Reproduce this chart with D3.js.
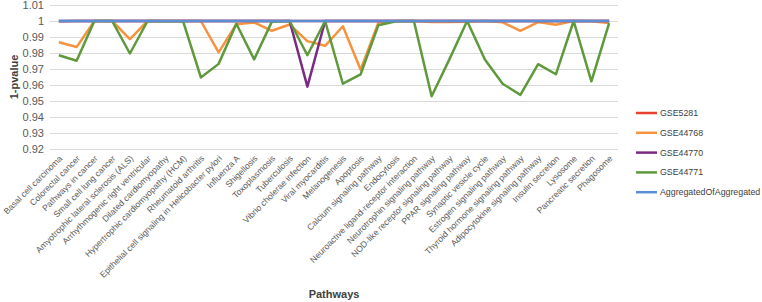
<!DOCTYPE html>
<html>
<head>
<meta charset="utf-8">
<script src="https://cdn.jsdelivr.net/npm/d3@7"></script>
<style>
  body { margin: 0; background: #fff; }
  svg { font-family: "Liberation Sans", Arial, sans-serif; }
</style>
</head>
<body>
<svg id="chart"></svg>
<script>
//Pathway names along the x axis
var pathways = ["Basal cell carcinoma", "Colorectal cancer", "Pathways in cancer", "Small cell lung cancer",
    "Amyotrophic lateral sclerosis (ALS)", "Arrhythmogenic right ventricular", "Dilated cardiomyopathy",
    "Hypertrophic cardiomyopathy (HCM)", "Rheumatoid arthritis", "Epithelial cell signaling in Helicobacter pylori",
    "Influenza A", "Shigellosis", "Toxoplasmosis", "Tuberculosis", "Vibrio cholerae infection", "Viral myocarditis",
    "Melanogenesis", "Apoptosis", "Calcium signaling pathway", "Endocytosis", "Neuroactive ligand-receptor interaction",
    "Neurotrophin signaling pathway", "NOD-like receptor signaling pathway", "PPAR signaling pathway",
    "Synaptic vesicle cycle", "Estrogen signaling pathway", "Thyroid hormone signaling pathway",
    "Adipocytokine signaling pathway", "Insulin secretion", "Lysosome", "Pancreatic secretion", "Phagosome"];

//Series values (1-pvalue), one per pathway
var gse5281 = [0.9998, 1, 1, 1, 1, 1, 1, 1, 1, 1, 1, 1, 1, 1, 1, 1,
    1, 1, 1, 1, 1, 1, 1, 1, 1, 1, 1, 1, 1, 1, 1, 1];
var gse44768 = [0.9867, 0.9837, 1, 1, 0.9887, 1, 1, 1, 1, 0.9804, 0.998, 0.9991, 0.9939, 0.9978, 0.9874, 0.9845,
    0.9967, 0.9695, 0.999, 1, 1, 0.9993, 0.9993, 0.9995, 1, 0.9992, 0.9939, 0.9993, 0.9976, 1, 0.9998, 0.9987];
var gse44770 = [1, 1, 1, 1, 1, 1, 1, 1, 1, 1, 1, 1, 1, 1, 0.959, 1,
    1, 1, 1, 1, 1, 1, 1, 1, 1, 1, 1, 1, 1, 1, 1, 1];
var gse44771 = [0.9786, 0.9752, 1, 1, 0.9797, 1, 0.9998, 0.9998, 0.9647, 0.9732, 0.9983, 0.976, 0.9996, 1, 0.9786, 1,
    0.9608, 0.9667, 0.9974, 0.9998, 1, 0.953, 0.976, 1, 0.976, 0.9608, 0.9538, 0.973, 0.9667, 1, 0.9623, 0.9987];
var aggregated = [1, 1, 1, 1, 1, 1, 1, 1, 1, 1, 1, 1, 1, 1, 1, 1,
    1, 1, 1, 1, 1, 1, 1, 1, 1, 1, 1, 1, 1, 1, 1, 1];

var seriesNames = ["GSE5281", "GSE44768", "GSE44770", "GSE44771", "AggregatedOfAggregated"];
var seriesValues = [gse5281, gse44768, gse44770, gse44771, aggregated];
var color = ["#e8412f", "#f7933e", "#7b2a84", "#5e9a3c", "#5a8fd6"];

//Y tick values
var yTicks = [0.92, 0.93, 0.94, 0.95, 0.96, 0.97, 0.98, 0.99, 1, 1.01];

var svg = d3.select("#chart");
var dims = {
    width: 762,
    height: 302,
    margin: { top: 5, bottom: 158, right: 144, left: 50 }
};
svg.attr("width", dims.width).attr("height", dims.height);

var xScale = d3.scaleBand()
    .domain(pathways)
    .range([dims.margin.left, dims.width - dims.margin.right]);

var yScale = d3.scaleLinear()
    .domain([0.92, 1.01])
    .range([dims.height - dims.margin.bottom + 5, dims.margin.top]);

var xMid = d => xScale(d) + xScale.bandwidth() / 2;

//Gridlines and y labels
var yAxis = svg.append("g")
    .attr("transform", `translate(${dims.margin.left},0)`)
    .call(d3.axisLeft(yScale).tickValues(yTicks).tickFormat(d3.format("~g"))
        .tickSize(-(dims.width - dims.margin.right - dims.margin.left)).tickPadding(6));
yAxis.select(".domain").remove();
yAxis.selectAll(".tick line").attr("stroke", "#d9d9d9");
yAxis.selectAll(".tick text").attr("fill", "#595959").style("font-size", "11px");

//X labels rotated
var xAxis = svg.append("g")
    .attr("transform", `translate(0,${yScale(0.92)})`)
    .call(d3.axisBottom(xScale).tickSize(0).tickPadding(0));
xAxis.select(".domain").remove();
xAxis.selectAll(".tick text")
    .attr("fill", "#595959")
    .style("font-size", "8.6px")
    .attr("text-anchor", "end")
    .attr("dy", 0)
    .attr("transform", "translate(4,10) rotate(-45)");

//Lines
var line = d3.line()
    .x((d, i) => xMid(pathways[i]))
    .y(d => yScale(d));

svg.append("g")
    .selectAll("path")
    .data(seriesValues)
    .enter()
    .append("path")
    .attr("fill", "none")
    .attr("stroke", (d, i) => color[i])
    .attr("stroke-width", 2.5)
    .attr("stroke-linejoin", "round")
    .attr("d", line);

//Axis titles
svg.append("text")
    .attr("x", (dims.margin.left + dims.width - dims.margin.right) / 2)
    .attr("y", 298)
    .attr("text-anchor", "middle")
    .style("font-size", "11px")
    .style("font-weight", "bold")
    .attr("fill", "#404040")
    .text("Pathways");

svg.append("text")
    .attr("transform", `translate(18,${(yScale(0.92) + yScale(1.01)) / 2}) rotate(-90)`)
    .attr("text-anchor", "middle")
    .style("font-size", "11px")
    .style("font-weight", "bold")
    .attr("fill", "#404040")
    .text("1-pvalue");

//Legend
var legend = svg.append("g")
    .selectAll("g")
    .data(seriesNames)
    .enter()
    .append("g")
    .attr("transform", (d, i) => `translate(636,${113 + i * 19.8})`);
legend.append("line")
    .attr("x1", 0).attr("x2", 21)
    .attr("stroke", (d, i) => color[i])
    .attr("stroke-width", 2.5);
legend.append("text")
    .attr("x", 24)
    .attr("dy", "0.35em")
    .style("font-size", "8.8px")
    .attr("fill", "#404040")
    .text(d => d);
</script>
</body>
</html>
